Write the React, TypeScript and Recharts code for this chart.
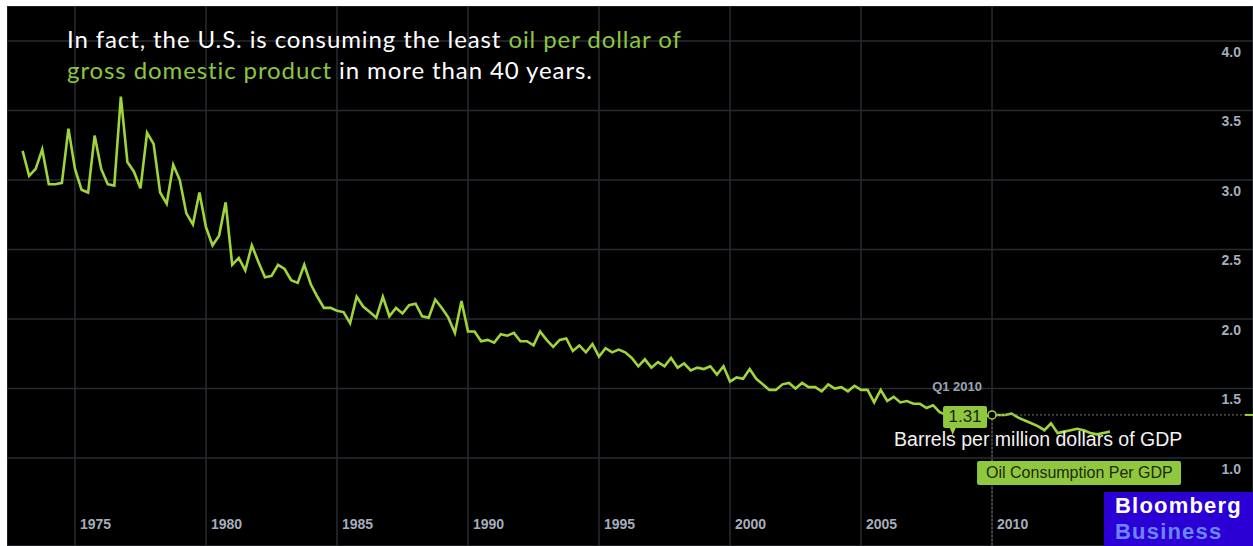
import { LineChart, Line, XAxis, YAxis, CartesianGrid, ReferenceLine, ReferenceDot } from 'recharts'

// quarterly series, first value is Q1 1973
const START_YEAR = 1973
const OIL_PER_GDP = [
  3.21, 3.03, 3.08, 3.22, 2.97, 2.97, 2.98, 3.37, 3.08, 2.93,
  2.91, 3.32, 3.08, 2.97, 2.96, 3.6, 3.13, 3.06, 2.94, 3.34,
  3.26, 2.91, 2.83, 3.11, 3.0, 2.76, 2.68, 2.91, 2.66, 2.53,
  2.6, 2.84, 2.39, 2.44, 2.35, 2.53, 2.41, 2.3, 2.31, 2.39,
  2.36, 2.28, 2.26, 2.39, 2.25, 2.16, 2.08, 2.08, 2.06, 2.05,
  1.97, 2.16, 2.09, 2.05, 2.01, 2.16, 2.02, 2.08, 2.04, 2.1,
  2.11, 2.02, 2.01, 2.14, 2.08, 2.01, 1.9, 2.13, 1.91, 1.91,
  1.84, 1.85, 1.83, 1.89, 1.88, 1.9, 1.84, 1.84, 1.81, 1.91,
  1.85, 1.8, 1.85, 1.86, 1.77, 1.81, 1.76, 1.82, 1.73, 1.79,
  1.76, 1.78, 1.76, 1.72, 1.66, 1.71, 1.65, 1.69, 1.66, 1.72,
  1.65, 1.68, 1.63, 1.65, 1.64, 1.66, 1.6, 1.66, 1.55, 1.58,
  1.57, 1.64, 1.57, 1.53, 1.49, 1.49, 1.53, 1.54, 1.5, 1.54,
  1.51, 1.51, 1.48, 1.53, 1.5, 1.51, 1.48, 1.52, 1.49, 1.49,
  1.4, 1.49, 1.41, 1.44, 1.4, 1.41, 1.39, 1.39, 1.36, 1.38,
  1.33, 1.31, 1.19, 1.3, 1.29, 1.3, 1.31, 1.3, 1.31, 1.31,
  1.31, 1.32, 1.29, 1.27, 1.25, 1.23, 1.2, 1.25, 1.18, 1.19,
  1.2, 1.21, 1.2, 1.18, 1.17, 1.18, 1.19,
]
const YEAR_TICKS = [1975, 1980, 1985, 1990, 1995, 2000, 2005, 2010]
const VALUE_TICKS = [1.0, 1.5, 2.0, 2.5, 3.0, 3.5, 4.0]
const HIGHLIGHT = { year: 2010, quarter: 1 }

const data = OIL_PER_GDP.map((v, i) => ({
  t: START_YEAR + i / 4,
  label: `Q${(i % 4) + 1} ${START_YEAR + Math.floor(i / 4)}`,
  v,
}))
const highlightPoint = data.find((d) => d.label === `Q${HIGHLIGHT.quarter} ${HIGHLIGHT.year}`)!

const W = 1246
const H = 540
const X_DOMAIN = [1972.405, 2019.96]
const Y_DOMAIN = [0.367, 4.252]
const GREEN = '#9fd43a'
const BOX_GREEN = '#8fc73e'
const AXIS_TEXT = '#a5adbd'
const AXIS_FONT = '"Liberation Sans", Arial, sans-serif'

function YearTick({ x, payload }: any) {
  return (
    <text x={x + 5} y={H - 22} fill={AXIS_TEXT} fontSize={14} fontWeight="bold" fontFamily={AXIS_FONT} dominantBaseline="central">
      {payload.value}
    </text>
  )
}

function ValueTick({ y, payload }: any) {
  return (
    <text x={W - 12} y={y + 10.5} fill={AXIS_TEXT} fontSize={14} fontWeight="bold" fontFamily={AXIS_FONT} textAnchor="end" dominantBaseline="central">
      {payload.value.toFixed(1)}
    </text>
  )
}

function HighlightMarker({ cx, cy }: any) {
  return (
    <g fontFamily={AXIS_FONT}>
      <line x1={cx + 4} y1={cy} x2={W - 8} y2={cy} stroke="#777" strokeDasharray="2 2" strokeWidth={1} />
      <line x1={W - 8} y1={cy} x2={W} y2={cy} stroke={GREEN} strokeWidth={2} />
      <text x={cx - 10} y={cy - 28} fill="#9aa3b5" fontSize={13} fontWeight="bold" textAnchor="end" dominantBaseline="central">
        {highlightPoint.label}
      </text>
      <rect x={cx - 49} y={cy - 9} width={44} height={22} rx={2} fill={BOX_GREEN} />
      <text x={cx - 27} y={cy + 2} fill="#1c2410" fontSize={17} textAnchor="middle" dominantBaseline="central">
        {highlightPoint.v.toFixed(2)}
      </text>
      <circle cx={cx} cy={cy} r={4} fill="#000" stroke={GREEN} strokeWidth={1.5} />
      <text x={cx - 98} y={cy + 24} fill="#f2f2f2" fontSize={19.5} dominantBaseline="central">
        Barrels per million dollars of GDP
      </text>
      <rect x={cx - 15} y={cy + 46} width={204} height={24} rx={2} fill={BOX_GREEN} />
      <text x={cx - 6} y={cy + 58} fill="#1e2a10" fontSize={16} dominantBaseline="central">
        Oil Consumption Per GDP
      </text>
    </g>
  )
}

export default function App() {
  return (
    <div style={{ position: 'absolute', left: 7, top: 6, width: W, height: H, background: '#000', overflow: 'hidden' }}>
      <LineChart width={W} height={H} data={data} margin={{ top: 0, right: 0, bottom: 0, left: 0 }}>
        <CartesianGrid stroke="#272b32" strokeWidth={1.5} />
        <XAxis
          dataKey="t"
          type="number"
          domain={X_DOMAIN}
          allowDataOverflow
          ticks={YEAR_TICKS}
          mirror
          axisLine={false}
          tickLine={false}
          tick={<YearTick />}
        />
        <YAxis
          type="number"
          orientation="right"
          domain={Y_DOMAIN}
          allowDataOverflow
          ticks={VALUE_TICKS}
          mirror
          axisLine={false}
          tickLine={false}
          tick={<ValueTick />}
        />
        <ReferenceLine
          segment={[
            { x: highlightPoint.t, y: highlightPoint.v },
            { x: highlightPoint.t, y: Y_DOMAIN[0] },
          ]}
          stroke="#6a6a6a"
          strokeDasharray="2 2"
        />
        <Line type="linear" dataKey="v" stroke={GREEN} strokeWidth={2.6} dot={false} isAnimationActive={false} />
        <ReferenceDot x={highlightPoint.t} y={highlightPoint.v} r={4} shape={<HighlightMarker />} />
      </LineChart>
      <div
        style={{
          position: 'absolute',
          left: 60,
          top: 17,
          fontFamily: 'Lato, sans-serif',
          fontSize: 24,
          letterSpacing: '0.9px',
          lineHeight: '31px',
          color: '#fff',
        }}
      >
        In fact, the U.S. is consuming the least <span style={{ color: '#8cc63e' }}>oil per dollar of</span>
        <br />
        <span style={{ color: '#8cc63e' }}>gross domestic product</span> in more than 40 years.
      </div>
      <div
        style={{
          position: 'absolute',
          left: 1097,
          top: 486,
          width: 149,
          height: 54,
          background: '#2a00d5',
          fontFamily: AXIS_FONT,
          fontWeight: 'bold',
          fontSize: 22,
          letterSpacing: '1.2px',
          lineHeight: '26px',
          padding: '1px 0 0 11px',
          boxSizing: 'border-box',
        }}
      >
        <div style={{ color: '#fff' }}>Bloomberg</div>
        <div style={{ color: '#6a86ff' }}>Business</div>
      </div>
    </div>
  )
}
